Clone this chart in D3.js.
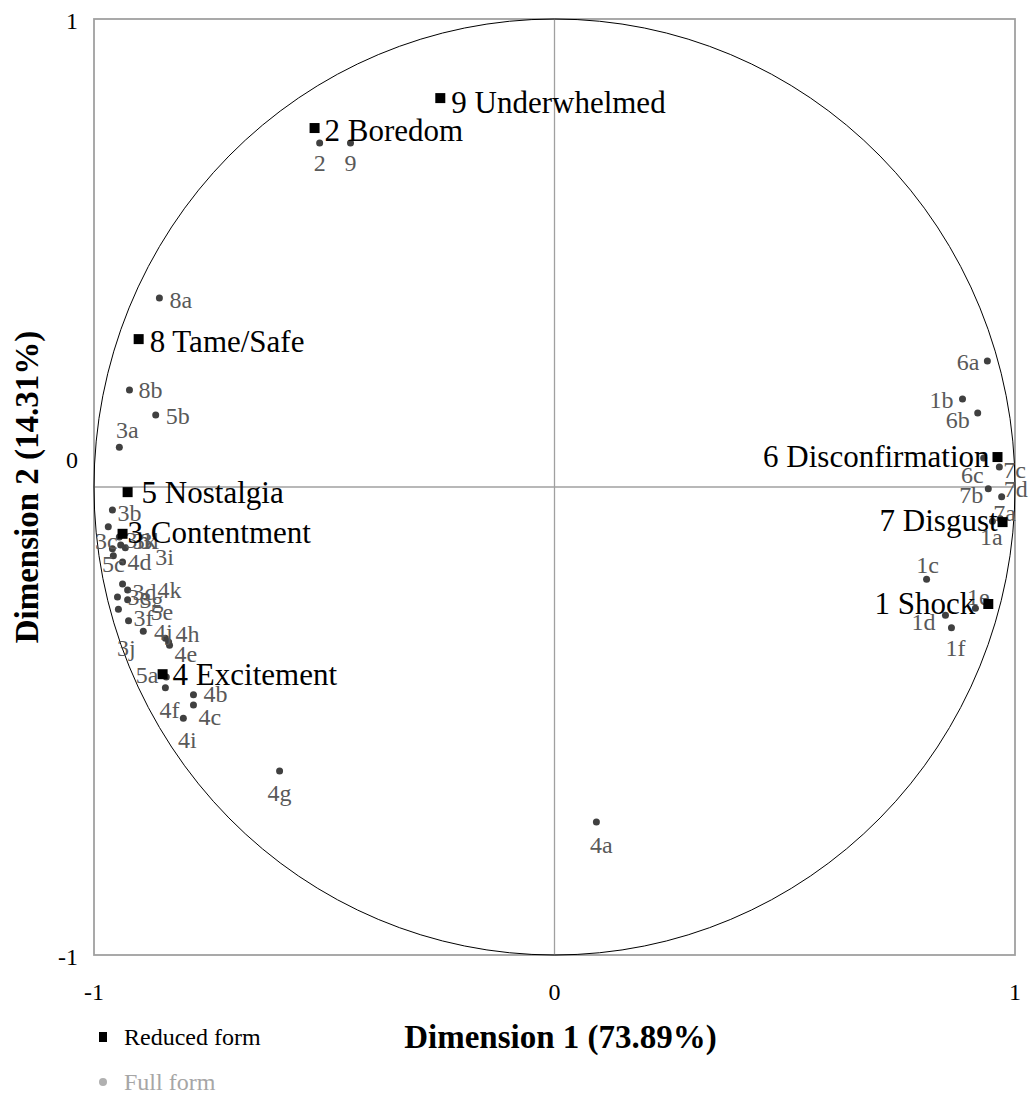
<!DOCTYPE html>
<html>
<head>
<meta charset="utf-8">
<script src="https://cdn.jsdelivr.net/npm/d3@7"></script>
<style>
  body { margin: 0; background: #fff; }
  svg { display: block; font-family: "Liberation Serif", "Times New Roman", serif; }
</style>
</head>
<body>
<svg id="drawspace" width="1029" height="1102"></svg>
<script>
// reduced form (squares)
const reducedNames = ["9 Underwhelmed", "2 Boredom", "8 Tame/Safe", "5 Nostalgia", "3 Contentment",
  "4 Excitement", "6 Disconfirmation", "7 Disgust", "1 Shock"];
const reducedX = [-0.248, -0.521, -0.903, -0.927, -0.938, -0.851, 0.962, 0.973, 0.942];
const reducedY = [0.831, 0.767, 0.316, -0.011, -0.100, -0.400, 0.064, -0.075, -0.250];

// full form (dots)
const fullNames = ["2", "9", "8a", "8b", "5b", "3a", "3b", "3c", "3h", "3k", "3l", "5c", "4d", "3i",
  "3d", "4k", "3e", "3g", "5e", "3f", "3j", "4j", "4h", "4e", "5a", "4f", "4b", "4c", "4i", "4g", "4a",
  "6a", "1b", "6b", "6c", "7c", "7b", "7d", "7a", "1a", "1c", "1e", "1d", "1f"];
const fullX = [-0.510, -0.443, -0.858, -0.923, -0.866, -0.945, -0.960, -0.969, -0.945, -0.942, -0.960, -0.958, -0.938, -0.932,
  -0.938, -0.927, -0.949, -0.927, -0.947, -0.925, -0.893, -0.845, -0.838, -0.836, -0.843, -0.845, -0.784, -0.784, -0.806, -0.597, 0.091,
  0.940, 0.886, 0.919, 0.932, 0.966, 0.942, 0.971, 0.968, 0.951, 0.808, 0.914, 0.849, 0.862];
const fullY = [0.735, 0.735, 0.404, 0.207, 0.154, 0.085, -0.049, -0.085, -0.107, -0.124, -0.132, -0.147, -0.160, -0.130,
  -0.207, -0.220, -0.235, -0.241, -0.261, -0.286, -0.308, -0.323, -0.331, -0.338, -0.406, -0.429, -0.444, -0.466, -0.494, -0.607, -0.716,
  0.269, 0.188, 0.158, 0.062, 0.043, -0.004, -0.021, -0.068, -0.073, -0.197, -0.259, -0.274, -0.301];

const tickValues = [-1, 0, 1];
const xTitle = "Dimension 1 (73.89%)";
const yTitle = "Dimension 2 (14.31%)";
const legendLabels = ["Reduced form", "Full form"];

// label placement (pixel offsets from the mark + anchor) -- styling only
const reducedPlace = {
  "9 Underwhelmed": [11, 4, "start"], "2 Boredom": [10, 2, "start"], "8 Tame/Safe": [11, 2, "start"],
  "5 Nostalgia": [14, 0, "start"], "3 Contentment": [5, -1, "start"], "4 Excitement": [10, 0, "start"],
  "6 Disconfirmation": [-8, -1, "end"], "7 Disgust": [-5, -2, "end"], "1 Shock": [-13, -1, "end"]
};
const fullPlace = {
  "2": [0, 20, "middle"], "9": [0, 20, "middle"], "8a": [10, 2, "start"], "8b": [9, 0, "start"],
  "5b": [10, 1, "start"], "3a": [8, -17, "middle"], "3b": [5, 3, "start"], "3c": [-2, 14, "middle"],
  "3h": [6, 3, "start"], "3k": [12, -4, "start"], "3l": [28, -8, "start"], "5c": [0, 8, "middle"],
  "4d": [5, 0, "start"], "3i": [30, 9, "start"], "3d": [10, 8, "start"], "4k": [30, 0, "start"],
  "3e": [10, 0, "start"], "3g": [12, 0, "start"], "5e": [32, 3, "start"], "3f": [5, -3, "start"],
  "3j": [-17, 17, "middle"], "4j": [-2, -6, "middle"], "4h": [7, -8, "start"], "4e": [5, 9, "start"],
  "5a": [-8, -2, "end"], "4f": [4, 22, "middle"], "4b": [10, -1, "start"], "4c": [5, 12, "start"],
  "4i": [4, 22, "middle"], "4g": [0, 22, "middle"], "4a": [5, 23, "middle"],
  "6a": [-8, 1, "end"], "1b": [-9, 1, "end"], "6b": [-8, 7, "end"], "6c": [0, 17, "end"],
  "7c": [4, 3, "start"], "7b": [-5, 6, "end"], "7d": [2, -8, "start"], "7a": [-7, -6, "start"],
  "1a": [-1, 16, "middle"], "1c": [1, -14, "middle"], "1e": [3, -11, "middle"], "1d": [-10, 7, "end"],
  "1f": [4, 20, "middle"]
};
// y tick label vertical nudge (Excel puts the 0 above the axis)
const yTickNudge = { "-1": 2, "0": -27, "1": 2 };

const svg = d3.select("#drawspace");
const margin = { top: 19, right: 14, bottom: 147, left: 94 };
const W = 1029, H = 1102;

const xScale = d3.scaleLinear().domain([-1, 1]).range([margin.left, W - margin.right]);
const yScale = d3.scaleLinear().domain([-1, 1]).range([H - margin.bottom, margin.top]);

const reduced = reducedNames.map((n, i) => ({ name: n, x: reducedX[i], y: reducedY[i] }));
const full = fullNames.map((n, i) => ({ name: n, x: fullX[i], y: fullY[i] }));

// frame
svg.append("rect")
  .attr("x", xScale(-1)).attr("y", yScale(1))
  .attr("width", xScale(1) - xScale(-1)).attr("height", yScale(-1) - yScale(1))
  .attr("fill", "none").attr("stroke", "#a0a0a0").attr("stroke-width", 1.8);

// axes through zero
svg.append("line")
  .attr("x1", xScale(-1)).attr("x2", xScale(1)).attr("y1", yScale(0)).attr("y2", yScale(0))
  .attr("stroke", "#a0a0a0").attr("stroke-width", 1.3);
svg.append("line")
  .attr("x1", xScale(0)).attr("x2", xScale(0)).attr("y1", yScale(-1)).attr("y2", yScale(1))
  .attr("stroke", "#a0a0a0").attr("stroke-width", 1.3);

// unit circle
svg.append("ellipse")
  .attr("cx", xScale(0)).attr("cy", yScale(0))
  .attr("rx", xScale(1) - xScale(0)).attr("ry", yScale(0) - yScale(1))
  .attr("fill", "none").attr("stroke", "#000").attr("stroke-width", 1);

// tick labels
svg.selectAll(".xtick").data(tickValues).enter().append("text")
  .attr("x", (d) => xScale(d)).attr("y", yScale(-1) + 37)
  .attr("dominant-baseline", "central")
  .attr("text-anchor", "middle").attr("font-size", 24).attr("fill", "#000")
  .text((d) => d);
svg.selectAll(".ytick").data(tickValues).enter().append("text")
  .attr("x", xScale(-1) - 16).attr("y", (d) => yScale(d) + yTickNudge[d])
  .attr("dominant-baseline", "central")
  .attr("text-anchor", "end").attr("font-size", 24).attr("fill", "#000")
  .text((d) => d);

// full form dots + labels
svg.selectAll(".fdot").data(full).enter().append("circle")
  .attr("cx", (d) => xScale(d.x)).attr("cy", (d) => yScale(d.y))
  .attr("r", 3.5).attr("fill", "#404040");
svg.selectAll(".flab").data(full).enter().append("text")
  .attr("x", (d) => xScale(d.x) + fullPlace[d.name][0])
  .attr("y", (d) => yScale(d.y) + fullPlace[d.name][1])
  .attr("text-anchor", (d) => fullPlace[d.name][2])
  .attr("dominant-baseline", "central")
  .attr("font-size", 24).attr("fill", "#595959")
  .text((d) => d.name);

// reduced form squares + labels
svg.selectAll(".rsq").data(reduced).enter().append("rect")
  .attr("x", (d) => xScale(d.x) - 5).attr("y", (d) => yScale(d.y) - 5)
  .attr("width", 10).attr("height", 10).attr("fill", "#000");
svg.selectAll(".rlab").data(reduced).enter().append("text")
  .attr("x", (d) => xScale(d.x) + reducedPlace[d.name][0])
  .attr("y", (d) => yScale(d.y) + reducedPlace[d.name][1])
  .attr("text-anchor", (d) => reducedPlace[d.name][2])
  .attr("dominant-baseline", "central")
  .attr("font-size", 31).attr("fill", "#000")
  .text((d) => d.name);

// axis titles
svg.append("text")
  .attr("x", xScale(0) + 6).attr("y", 1037)
  .attr("dominant-baseline", "central")
  .attr("text-anchor", "middle").attr("font-size", 33).attr("font-weight", "bold")
  .text(xTitle);
svg.append("text")
  .attr("transform", "translate(27," + yScale(0) + ") rotate(-90)")
  .attr("dominant-baseline", "central")
  .attr("text-anchor", "middle").attr("font-size", 33).attr("font-weight", "bold")
  .text(yTitle);

// legend
svg.append("rect").attr("x", 99).attr("y", 1032).attr("width", 8).attr("height", 10).attr("fill", "#000");
svg.append("text").attr("x", 124).attr("y", 1037).attr("dominant-baseline", "central")
  .attr("font-size", 24).attr("fill", "#000").text(legendLabels[0]);
svg.append("circle").attr("cx", 103).attr("cy", 1082).attr("r", 4).attr("fill", "#b0b0b0");
svg.append("text").attr("x", 124).attr("y", 1082).attr("dominant-baseline", "central")
  .attr("font-size", 24).attr("fill", "#a6a6a6").text(legendLabels[1]);
</script>
</body>
</html>
